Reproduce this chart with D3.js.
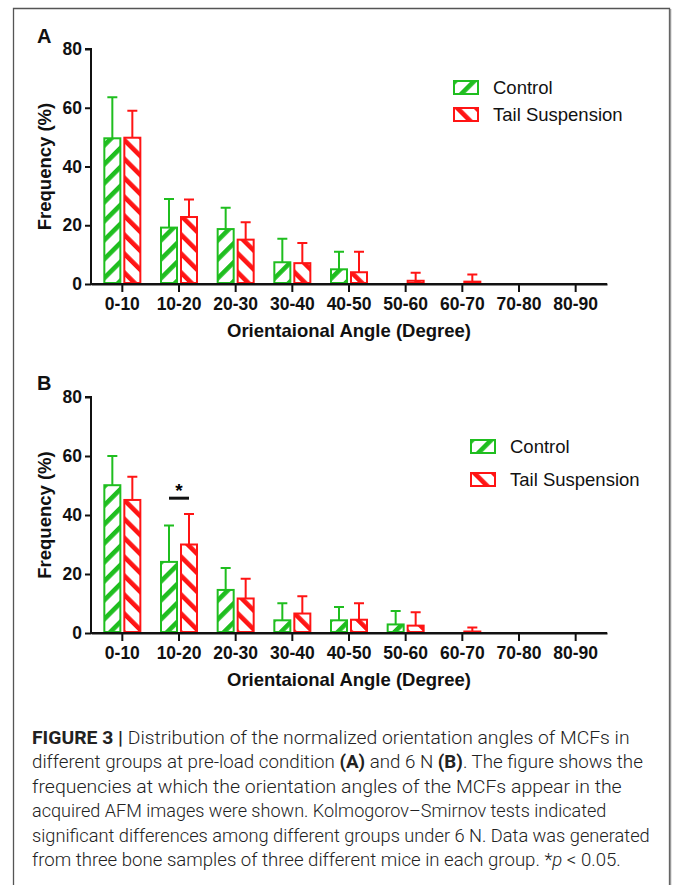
<!DOCTYPE html>
<html>
<head>
<meta charset="utf-8">
<script src="https://cdnjs.cloudflare.com/ajax/libs/d3/7.8.5/d3.min.js"></script>
<style>
  body { margin: 0; background: #fff; }
  svg { display: block; }
</style>
</head>
<body>
<div class="visualization"></div>
<script>
// ---- data ----
const categories = ["0-10", "10-20", "20-30", "30-40", "40-50", "50-60", "60-70", "70-80", "80-90"];
const seriesNames = ["Control", "Tail Suspension"];
const yTicks = [0, 20, 40, 60, 80];

// panel A: pre-load
const controlA = [49.6, 19.2, 18.7, 7.4, 5.0, 0, 0, 0, 0];
const controlAErr = [14.0, 9.7, 7.3, 8.0, 6.0, 0, 0, 0, 0];
const tailA = [49.8, 22.8, 15.1, 7.1, 4.0, 1.1, 0.8, 0, 0];
const tailAErr = [9.2, 6.0, 5.9, 6.9, 7.0, 2.7, 2.4, 0, 0];

// panel B: 6 N
const controlB = [50.1, 24.1, 14.6, 4.3, 4.3, 2.9, 0, 0, 0];
const controlBErr = [9.9, 12.3, 7.4, 5.8, 4.5, 4.6, 0, 0, 0];
const tailB = [45.1, 30.0, 11.7, 6.6, 4.5, 2.5, 0.5, 0, 0];
const tailBErr = [7.9, 10.3, 6.7, 5.9, 5.6, 4.5, 1.4, 0, 0];

// significance mark in B
const sigB = [{ cat: "10-20", level: 45.7, label: "*" }];

const captionLines = [
  [["FIGURE 3 | ", "b"], ["Distribution of the normalized orientation angles of MCFs in", ""]],
  [["different groups at pre-load condition ", ""], ["(A)", "b"], [" and 6 N ", ""], ["(B)", "b"], [". The figure shows the", ""]],
  [["frequencies at which the orientation angles of the MCFs appear in the", ""]],
  [["acquired AFM images were shown. Kolmogorov\u2013Smirnov tests indicated", ""]],
  [["significant differences among different groups under 6 N. Data was generated", ""]],
  [["from three bone samples of three different mice in each group. *", ""], ["p", "i"], [" < 0.05.", ""]]
];
// where each caption line ends
const captionEnds = [630, 643, 622, 607, 650, 621];

const width = 673;
const height = 885;
const green = "#1fbe1f";
const red = "#ff1414";
const colors = [green, red];
const chartFont = "'Liberation Sans', Arial, sans-serif";

var svg = d3.select(".visualization").append("svg")
  .attr("width", width)
  .attr("height", height);

svg.append("rect").attr("width", width).attr("height", height).attr("fill", "#fff");

// frame
svg.append("path")
  .attr("d", "M13.5," + (height + 5) + "V8.5H669.5V" + (height + 5))
  .attr("fill", "none")
  .attr("stroke", "#555")
  .attr("stroke-width", 1.3);
svg.append("line")
  .attr("x1", 670.5).attr("x2", 670.5).attr("y1", 9).attr("y2", height)
  .attr("stroke", "#999").attr("stroke-width", 1.5);

// hatch patterns
var defs = svg.append("defs");
function hatch(id, color, angle) {
  var p = defs.append("pattern")
    .attr("id", id)
    .attr("patternUnits", "userSpaceOnUse")
    .attr("width", 13.4)
    .attr("height", 13.4)
    .attr("patternTransform", "rotate(" + angle + ")");
  p.append("rect").attr("width", 13.4).attr("height", 13.4).attr("fill", "#fff");
  p.append("rect").attr("width", 4.6).attr("height", 13.4).attr("fill", color);
}
hatch("hatch0", green, 45);
hatch("hatch1", red, -45);

function drawPanel(cfg) {
  var g = svg.append("g");

  var x = d3.scaleBand().domain(categories).range([91, 607]).paddingOuter(0.053);
  var xInner = d3.scaleBand().domain(seriesNames).range([-19, 19]).paddingInner(0.1);
  var y = d3.scaleLinear().domain([0, 80]).range([cfg.y0, cfg.y80]);

  // axes
  var xAxis = d3.axisBottom(x).tickSizeInner(8).tickSizeOuter(0).tickPadding(6);
  var yAxis = d3.axisLeft(y).tickValues(yTicks).tickSize(6).tickPadding(3);

  var gx = g.append("g").attr("transform", "translate(0," + cfg.y0 + ")").call(xAxis);
  var gy = g.append("g").attr("transform", "translate(91,0)").call(yAxis);

  [gx, gy].forEach(a => {
    a.selectAll("path, line").attr("stroke", "#111").attr("stroke-width", 2);
    a.selectAll("text")
      .attr("fill", "#111")
      .style("font-family", chartFont)
      .style("font-weight", "bold")
      .style("font-size", "17.5px");
  });
  gy.select(".domain").attr("d", "M-6," + y(80) + "H0V" + (y(0) + 1));

  // bars
  var series = [
    { name: seriesNames[0], vals: cfg.control, errs: cfg.controlErr, idx: 0 },
    { name: seriesNames[1], vals: cfg.tail, errs: cfg.tailErr, idx: 1 }
  ];

  series.forEach(s => {
    var pts = categories.map((c, i) => ({ cat: c, v: s.vals[i], e: s.errs[i] })).filter(d => d.v > 0);
    var cx = d => x(d.cat) + x.bandwidth() / 2 + xInner(s.name) + xInner.bandwidth() / 2;

    // error bars (upper only)
    var eg = g.append("g").attr("stroke", colors[s.idx]).attr("stroke-width", 2).attr("fill", "none");
    eg.selectAll(".err").data(pts).enter().append("path")
      .attr("d", d => "M" + cx(d) + "," + y(d.v) + "V" + y(d.v + d.e) +
        "M" + (cx(d) - 5) + "," + y(d.v + d.e) + "H" + (cx(d) + 5));

    g.append("g").selectAll("rect").data(pts).enter().append("rect")
      .attr("x", d => x(d.cat) + x.bandwidth() / 2 + xInner(s.name) + 1)
      .attr("width", xInner.bandwidth() - 2)
      .attr("y", d => y(d.v))
      .attr("height", d => y(0) - y(d.v) - 1)
      .attr("fill", "url(#hatch" + s.idx + ")")
      .attr("stroke", colors[s.idx])
      .attr("stroke-width", 2);
  });

  // redraw x axis line on top
  g.append("line")
    .attr("x1", 90).attr("x2", 607)
    .attr("y1", cfg.y0).attr("y2", cfg.y0)
    .attr("stroke", "#111").attr("stroke-width", 2);

  // significance
  (cfg.sig || []).forEach(s => {
    var c = x(s.cat) + x.bandwidth() / 2;
    var x1 = c + xInner(seriesNames[0]) + xInner.bandwidth() / 2;
    var x2 = c + xInner(seriesNames[1]) + xInner.bandwidth() / 2;
    g.append("line")
      .attr("x1", x1).attr("x2", x2)
      .attr("y1", y(s.level)).attr("y2", y(s.level))
      .attr("stroke", "#111").attr("stroke-width", 3);
    g.append("text")
      .attr("x", (x1 + x2) / 2).attr("y", y(s.level) - 1)
      .attr("text-anchor", "middle")
      .style("font-family", chartFont).style("font-weight", "bold").style("font-size", "19px")
      .text(s.label);
  });

  // axis titles
  g.append("text")
    .attr("transform", "translate(51," + (cfg.y0 + cfg.y80) / 2 + ") rotate(-90)")
    .attr("text-anchor", "middle")
    .style("font-family", chartFont).style("font-weight", "bold").style("font-size", "18.5px")
    .attr("fill", "#111")
    .text("Frequency (%)");

  g.append("text")
    .attr("x", 349).attr("y", cfg.y0 + 53)
    .attr("text-anchor", "middle")
    .style("font-family", chartFont).style("font-weight", "bold").style("font-size", "18.5px")
    .attr("fill", "#111")
    .text("Orientaional Angle (Degree)");

  // panel letter
  g.append("text")
    .attr("x", 37).attr("y", cfg.letterY)
    .style("font-family", chartFont).style("font-weight", "bold").style("font-size", "20px")
    .attr("fill", "#111")
    .text(cfg.letter);

  // legend
  var lg = g.append("g").attr("transform", "translate(" + cfg.legX + "," + cfg.legY + ")");
  seriesNames.forEach((n, i) => {
    var row = lg.append("g").attr("transform", "translate(0," + i * cfg.legStep + ")");
    row.append("rect")
      .attr("x", 1).attr("y", 1).attr("width", 24).attr("height", 13)
      .attr("fill", "url(#hatch" + i + ")")
      .attr("stroke", colors[i]).attr("stroke-width", 2);
    row.append("text")
      .attr("x", 40).attr("y", 14)
      .style("font-family", chartFont).style("font-size", "18.5px")
      .attr("fill", "#111")
      .text(n);
  });
}

drawPanel({
  letter: "A", letterY: 43,
  y0: 284, y80: 49,
  control: controlA, controlErr: controlAErr,
  tail: tailA, tailErr: tailAErr,
  legX: 453, legY: 80, legStep: 27
});

drawPanel({
  letter: "B", letterY: 390,
  y0: 633, y80: 397,
  control: controlB, controlErr: controlBErr,
  tail: tailB, tailErr: tailBErr,
  sig: sigB,
  legX: 470, legY: 439, legStep: 33
});

// caption
var cap = svg.append("g")
  .style("font-family", "Roboto, 'Liberation Sans', sans-serif")
  .style("font-size", "18.5px")
  .attr("fill", "#222");

captionLines.forEach((line, i) => {
  var row = cap.append("g");
  var t = row.append("text")
    .attr("x", 0)
    .attr("y", 0)
    .style("font-weight", 300);
  line.forEach(seg => {
    t.append("tspan")
      .style("font-weight", seg[1] === "b" ? 700 : 300)
      .style("font-style", seg[1] === "i" ? "italic" : "normal")
      .text(seg[0]);
  });
  var w = t.node().getComputedTextLength();
  var k = (captionEnds[i] - 32) / w;
  row.attr("transform", "translate(32," + (744 + i * 24.4) + ") scale(" + k + ",1)");
});
</script>
</body>
</html>
